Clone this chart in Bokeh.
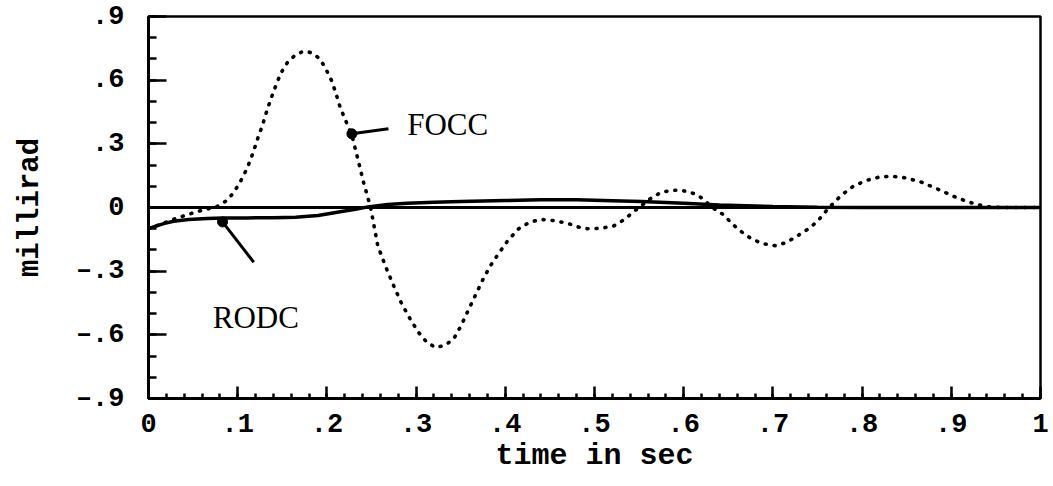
from bokeh.plotting import figure
from bokeh.models import Range1d, FixedTicker, Span, Label, ColumnDataSource
from bokeh.embed import file_html
from bokeh.resources import INLINE

# ---- data ----
focc_t = [0.000, 0.013, 0.028, 0.042, 0.055, 0.068, 0.077, 0.086, 0.093, 0.100,
          0.106, 0.111, 0.117, 0.122, 0.128, 0.133, 0.140, 0.148, 0.156, 0.165,
          0.172, 0.178, 0.185, 0.192, 0.198, 0.205, 0.210, 0.215, 0.222, 0.228,
          0.234, 0.241, 0.249, 0.257, 0.266, 0.275, 0.284, 0.294, 0.303, 0.312,
          0.322, 0.332, 0.342, 0.350, 0.359, 0.368, 0.376, 0.384, 0.392, 0.403,
          0.415, 0.427, 0.440, 0.455, 0.470, 0.482, 0.492, 0.507, 0.521, 0.533,
          0.544, 0.550, 0.562, 0.574, 0.585, 0.594, 0.605, 0.616, 0.625, 0.632,
          0.645, 0.655, 0.665, 0.675, 0.688, 0.703, 0.715, 0.727, 0.740, 0.750,
          0.762, 0.776, 0.790, 0.805, 0.818, 0.832, 0.848, 0.865, 0.884, 0.903,
          0.918, 0.929, 0.940, 0.955, 0.970, 1.000]
focc_v = [-0.100, -0.080, -0.056, -0.036, -0.019, -0.005, 0.005, 0.028, 0.058, 0.100,
          0.145, 0.190, 0.255, 0.320, 0.390, 0.460, 0.545, 0.630, 0.685, 0.720,
          0.733, 0.735, 0.725, 0.700, 0.660, 0.600, 0.540, 0.470, 0.400, 0.340,
          0.240, 0.120, 0.000, -0.180, -0.280, -0.370, -0.455, -0.530, -0.590, -0.635,
          -0.660, -0.650, -0.620, -0.560, -0.480, -0.400, -0.330, -0.270, -0.220, -0.155,
          -0.100, -0.070, -0.056, -0.062, -0.075, -0.092, -0.100, -0.098, -0.088, -0.058,
          -0.020, 0.000, 0.040, 0.070, 0.080, 0.082, 0.075, 0.058, 0.028, 0.000,
          -0.035, -0.080, -0.115, -0.145, -0.170, -0.180, -0.165, -0.135, -0.100, -0.065,
          -0.005, 0.055, 0.100, 0.128, 0.142, 0.148, 0.140, 0.122, 0.088, 0.052,
          0.028, 0.014, 0.004, 0.000, 0.000, 0.000]

rodc_t = [0.000, 0.008, 0.018, 0.028, 0.045, 0.066, 0.084, 0.110, 0.140, 0.165,
          0.190, 0.215, 0.232, 0.246, 0.268, 0.290, 0.320, 0.350, 0.400, 0.440,
          0.480, 0.520, 0.553, 0.600, 0.640, 0.700, 0.750, 0.800, 1.000]
rodc_v = [-0.100, -0.088, -0.075, -0.065, -0.057, -0.052, -0.050, -0.049, -0.048, -0.046,
          -0.038, -0.020, -0.008, 0.003, 0.014, 0.020, 0.025, 0.028, 0.033, 0.037,
          0.036, 0.032, 0.028, 0.020, 0.012, 0.005, 0.001, 0.000, 0.000]

x_ticks = [0.0, 0.1, 0.2, 0.3, 0.4, 0.5, 0.6, 0.7, 0.8, 0.9, 1.0]
x_tick_labels = ["0", ".1", ".2", ".3", ".4", ".5", ".6", ".7", ".8", ".9", "1"]
x_minor = [i / 50 for i in range(51)]
y_ticks = [-0.9, -0.6, -0.3, 0.0, 0.3, 0.6, 0.9]
y_tick_labels = ["\u2013.9", "\u2013.6", "\u2013.3", "0", ".3", ".6", ".9"]
y_minor = [i / 10 - 0.9 for i in range(19)]

# annotations: name, label anchor, leader start (on curve), leader end
ann_names = ["FOCC", "RODC"]
ann_text_t = [0.290, 0.072]
ann_text_v = [0.390, -0.516]
ann_dot_t = [0.228, 0.083]
ann_dot_v = [0.347, -0.068]
ann_end_t = [0.269, 0.118]
ann_end_v = [0.371, -0.258]

MONO = "Liberation Mono"

p = figure(width=1053, height=486, x_range=Range1d(0, 1), y_range=Range1d(-0.9, 0.9),
           output_backend="svg", toolbar_location=None,
           min_border_left=148, min_border_right=13, min_border_top=16, min_border_bottom=88)
p.background_fill_color = "white"
p.border_fill_color = "white"
p.outline_line_color = "black"
p.outline_line_width = 2.5
p.xgrid.visible = False
p.ygrid.visible = False

p.xaxis.ticker = FixedTicker(ticks=x_ticks, minor_ticks=x_minor)
p.xaxis.major_label_overrides = dict(zip(x_ticks, x_tick_labels))
p.yaxis.ticker = FixedTicker(ticks=y_ticks, minor_ticks=y_minor)
p.yaxis.major_label_overrides = dict(zip(y_ticks, y_tick_labels))

for ax in (p.xaxis, p.yaxis):
    ax.axis_line_width = 3
    ax.axis_line_color = "black"
    ax.major_tick_line_width = 2.5
    ax.minor_tick_line_width = 2.5
    ax.major_tick_line_color = "black"
    ax.minor_tick_line_color = "black"
    ax.major_tick_out = 0
    ax.minor_tick_out = 0
    ax.major_label_text_font = MONO
    ax.major_label_text_font_style = "bold"
    ax.major_label_text_font_size = "27px"
    ax.major_label_text_color = "black"
    ax.axis_label_text_font = MONO
    ax.axis_label_text_font_style = "bold"
    ax.axis_label_text_color = "black"

p.xaxis.major_tick_in = 12
p.xaxis.minor_tick_in = 5
p.yaxis.major_tick_in = 18
p.yaxis.minor_tick_in = 8
p.xaxis.major_label_standoff = 15
p.yaxis.major_label_standoff = 24
p.xaxis.axis_label = "time in sec"
p.yaxis.axis_label = "millirad"
p.xaxis.axis_label_text_font_size = "30px"
p.yaxis.axis_label_text_font_size = "29px"
p.xaxis.axis_label_standoff = 4
p.yaxis.axis_label_standoff = 26

p.add_layout(Span(location=0, dimension="width", line_color="black", line_width=3))

p.line(rodc_t, rodc_v, line_color="black", line_width=3.5)
p.line(focc_t, focc_v, line_color="black", line_width=3.6, line_dash="1 8", line_cap="round")

src = ColumnDataSource(dict(x0=ann_dot_t, y0=ann_dot_v, x1=ann_end_t, y1=ann_end_v))
p.segment(x0="x0", y0="y0", x1="x1", y1="y1", source=src, line_color="black", line_width=3)
p.scatter(x="x0", y="y0", source=src, size=10, color="black")

for name, tx, ty in zip(ann_names, ann_text_t, ann_text_v):
    p.add_layout(Label(x=tx, y=ty, text=name, text_font="Liberation Serif",
                       text_font_size="31px", text_color="black",
                       text_align="left", text_baseline="alphabetic"))

open("out.html", "w").write(file_html(p, INLINE))
